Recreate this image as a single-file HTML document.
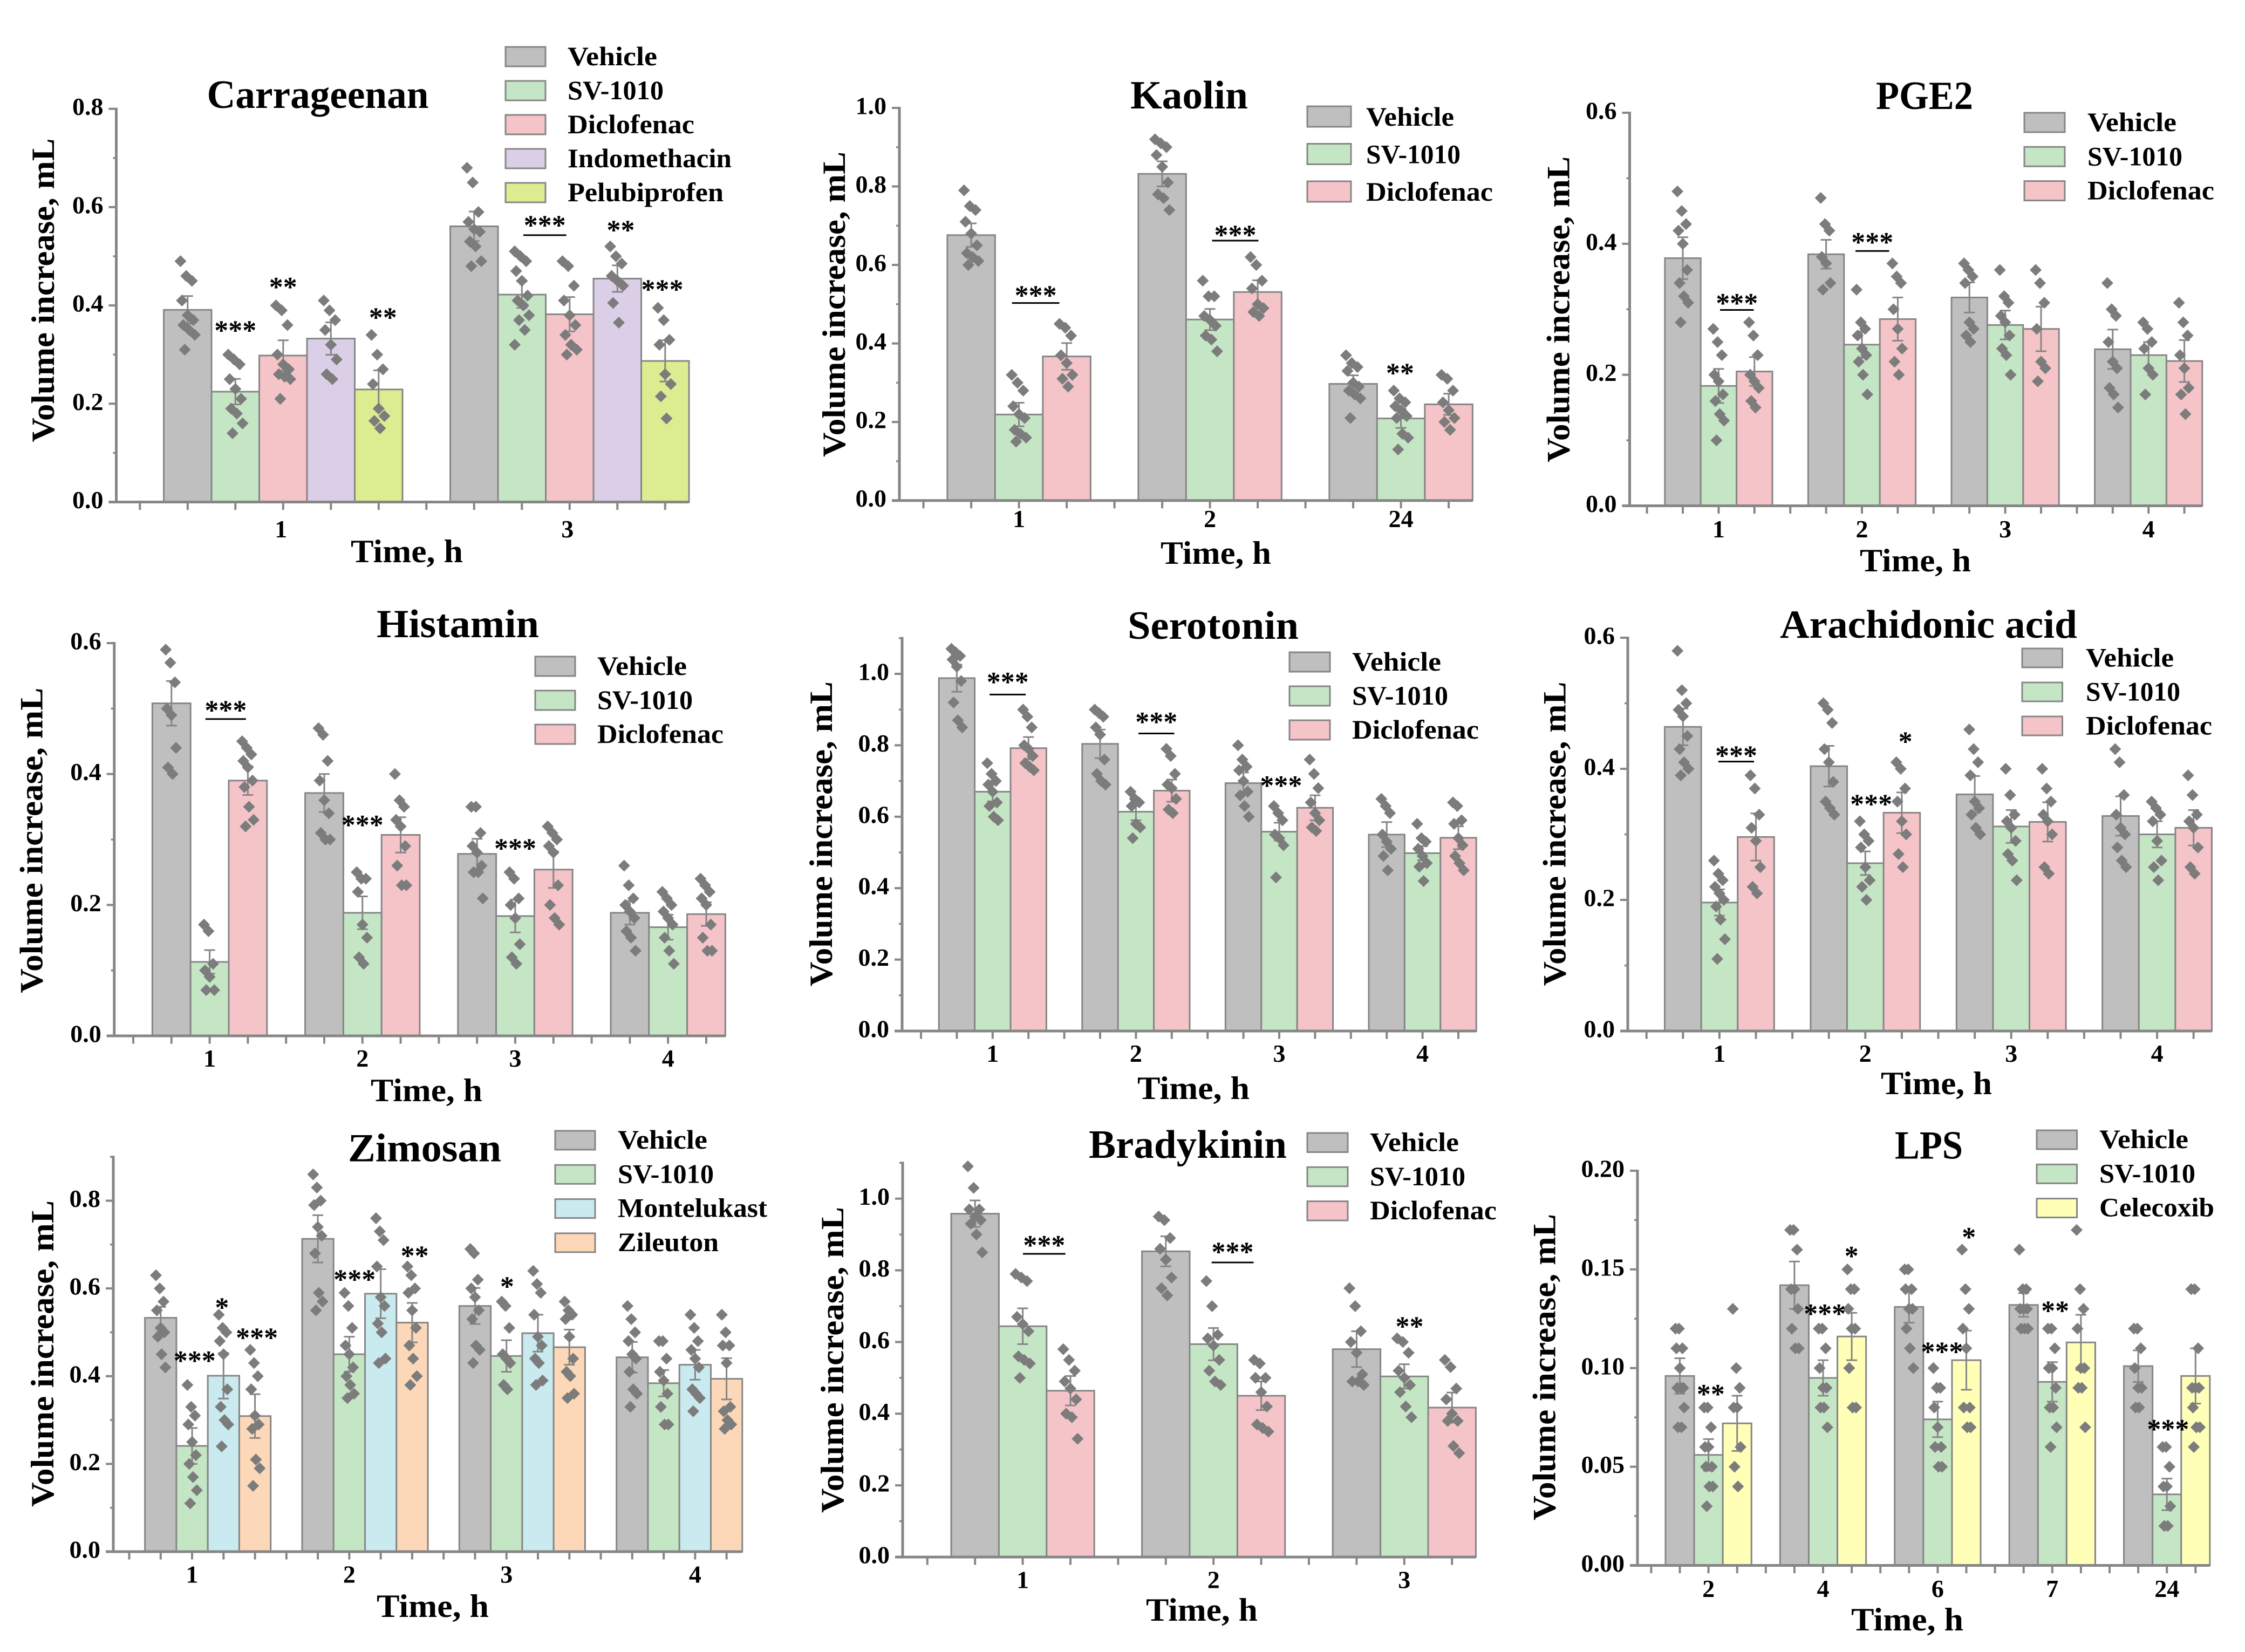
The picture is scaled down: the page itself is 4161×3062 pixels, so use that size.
<!DOCTYPE html>
<html lang="en">
<head>
<meta charset="utf-8">
<title>Paw edema volume increase panels</title>
<style>
html,body{margin:0;padding:0;background:#fff;}
svg{display:block;}
text{font-family:"Liberation Serif",serif;font-weight:700;fill:#000;}
.ttl{font-size:74px;text-anchor:middle;}
.axt{font-size:60px;text-anchor:middle;}
.leg{font-size:50px;}
.sw{stroke:#868686;stroke-width:3;}
</style>
</head>
<body>
<svg id="figure" xmlns="http://www.w3.org/2000/svg" width="4161" height="3062" viewBox="0 0 4161 3062">
<rect x="0" y="0" width="4161" height="3062" fill="#fff"/>

<!-- Carrageenan -->
<text class="ttl" x="589" y="200" textLength="411" lengthAdjust="spacingAndGlyphs">Carrageenan</text>
<text class="axt" x="754" y="1042" textLength="208" lengthAdjust="spacingAndGlyphs">Time, h</text>
<text class="axt" transform="translate(100,538) rotate(-90)" textLength="563" lengthAdjust="spacingAndGlyphs">Volume increase, mL</text>
<g>
<rect class="sw" x="937" y="87" width="74" height="36" fill="#bfbfbf"/><text class="leg" x="1052" y="121" textLength="166" lengthAdjust="spacingAndGlyphs">Vehicle</text>
<rect class="sw" x="937" y="150" width="74" height="36" fill="#c5e6c5"/><text class="leg" x="1052" y="184" textLength="178" lengthAdjust="spacingAndGlyphs">SV-1010</text>
<rect class="sw" x="937" y="213" width="74" height="36" fill="#f4c4c8"/><text class="leg" x="1052" y="247" textLength="235" lengthAdjust="spacingAndGlyphs">Diclofenac</text>
<rect class="sw" x="937" y="276" width="74" height="36" fill="#dbcfe7"/><text class="leg" x="1052" y="310" textLength="304" lengthAdjust="spacingAndGlyphs">Indomethacin</text>
<rect class="sw" x="937" y="339" width="74" height="36" fill="#dcec90"/><text class="leg" x="1052" y="373" textLength="289" lengthAdjust="spacingAndGlyphs">Pelubiprofen</text>
</g>

<!-- Kaolin -->
<text class="ttl" x="2204" y="201" textLength="218" lengthAdjust="spacingAndGlyphs">Kaolin</text>
<text class="axt" x="2253.5" y="1045" textLength="205" lengthAdjust="spacingAndGlyphs">Time, h</text>
<text class="axt" transform="translate(1566,564) rotate(-90)" textLength="566" lengthAdjust="spacingAndGlyphs">Volume increase, mL</text>
<g>
<rect class="sw" x="2423" y="197" width="81" height="38" fill="#bfbfbf"/><text class="leg" x="2532" y="233" textLength="163" lengthAdjust="spacingAndGlyphs">Vehicle</text>
<rect class="sw" x="2423" y="266.5" width="81" height="38" fill="#c5e6c5"/><text class="leg" x="2532" y="302.5" textLength="175" lengthAdjust="spacingAndGlyphs">SV-1010</text>
<rect class="sw" x="2423" y="336" width="81" height="38" fill="#f4c4c8"/><text class="leg" x="2532" y="372" textLength="235" lengthAdjust="spacingAndGlyphs">Diclofenac</text>
</g>

<!-- PGE2 -->
<text class="ttl" x="3567" y="202" textLength="180" lengthAdjust="spacingAndGlyphs">PGE2</text>
<text class="axt" x="3550" y="1059" textLength="206" lengthAdjust="spacingAndGlyphs">Time, h</text>
<text class="axt" transform="translate(2908.5,573.5) rotate(-90)" textLength="567" lengthAdjust="spacingAndGlyphs">Volume increase, mL</text>
<g>
<rect class="sw" x="3752" y="209" width="75" height="36" fill="#bfbfbf"/><text class="leg" x="3869" y="243" textLength="165" lengthAdjust="spacingAndGlyphs">Vehicle</text>
<rect class="sw" x="3752" y="272.3" width="75" height="36" fill="#c5e6c5"/><text class="leg" x="3869" y="306.3" textLength="176" lengthAdjust="spacingAndGlyphs">SV-1010</text>
<rect class="sw" x="3752" y="335.6" width="75" height="36" fill="#f4c4c8"/><text class="leg" x="3869" y="369.6" textLength="235" lengthAdjust="spacingAndGlyphs">Diclofenac</text>
</g>

<!-- Histamin -->
<text class="ttl" x="848.5" y="1181" textLength="301" lengthAdjust="spacingAndGlyphs">Histamin</text>
<text class="axt" x="790.5" y="2041" textLength="207" lengthAdjust="spacingAndGlyphs">Time, h</text>
<text class="axt" transform="translate(78.6,1557.7) rotate(-90)" textLength="566" lengthAdjust="spacingAndGlyphs">Volume increase, mL</text>
<g>
<rect class="sw" x="992" y="1217" width="74" height="36" fill="#bfbfbf"/><text class="leg" x="1107" y="1251" textLength="166" lengthAdjust="spacingAndGlyphs">Vehicle</text>
<rect class="sw" x="992" y="1280" width="74" height="36" fill="#c5e6c5"/><text class="leg" x="1107" y="1314" textLength="177" lengthAdjust="spacingAndGlyphs">SV-1010</text>
<rect class="sw" x="992" y="1343" width="74" height="36" fill="#f4c4c8"/><text class="leg" x="1107" y="1377" textLength="234" lengthAdjust="spacingAndGlyphs">Diclofenac</text>
</g>

<!-- Serotonin -->
<text class="ttl" x="2248.5" y="1184" textLength="317" lengthAdjust="spacingAndGlyphs">Serotonin</text>
<text class="axt" x="2212" y="2037" textLength="208" lengthAdjust="spacingAndGlyphs">Time, h</text>
<text class="axt" transform="translate(1542,1545.6) rotate(-90)" textLength="565" lengthAdjust="spacingAndGlyphs">Volume increase, mL</text>
<g>
<rect class="sw" x="2390" y="1209" width="75" height="36" fill="#bfbfbf"/><text class="leg" x="2506" y="1243" textLength="165" lengthAdjust="spacingAndGlyphs">Vehicle</text>
<rect class="sw" x="2390" y="1272" width="75" height="36" fill="#c5e6c5"/><text class="leg" x="2506" y="1306" textLength="178" lengthAdjust="spacingAndGlyphs">SV-1010</text>
<rect class="sw" x="2390" y="1335" width="75" height="36" fill="#f4c4c8"/><text class="leg" x="2506" y="1369" textLength="235" lengthAdjust="spacingAndGlyphs">Diclofenac</text>
</g>

<!-- Arachidonic acid -->
<text class="ttl" x="3574.5" y="1182" textLength="551" lengthAdjust="spacingAndGlyphs">Arachidonic acid</text>
<text class="axt" x="3589" y="2028" textLength="206" lengthAdjust="spacingAndGlyphs">Time, h</text>
<text class="axt" transform="translate(2901.6,1545.5) rotate(-90)" textLength="564" lengthAdjust="spacingAndGlyphs">Volume increase, mL</text>
<g>
<rect class="sw" x="3748" y="1202" width="74.5" height="35" fill="#bfbfbf"/><text class="leg" x="3866" y="1235.6" textLength="163" lengthAdjust="spacingAndGlyphs">Vehicle</text>
<rect class="sw" x="3748" y="1265" width="74.5" height="35" fill="#c5e6c5"/><text class="leg" x="3866" y="1298.6" textLength="175" lengthAdjust="spacingAndGlyphs">SV-1010</text>
<rect class="sw" x="3748" y="1328" width="74.5" height="35" fill="#f4c4c8"/><text class="leg" x="3866" y="1361.6" textLength="234" lengthAdjust="spacingAndGlyphs">Diclofenac</text>
</g>

<!-- Zimosan -->
<text class="ttl" x="787" y="2152.6" textLength="284" lengthAdjust="spacingAndGlyphs">Zimosan</text>
<text class="axt" x="802" y="2997" textLength="208" lengthAdjust="spacingAndGlyphs">Time, h</text>
<text class="axt" transform="translate(99,2509) rotate(-90)" textLength="568" lengthAdjust="spacingAndGlyphs">Volume increase, mL</text>
<g>
<rect class="sw" x="1029" y="2096" width="74" height="35" fill="#bfbfbf"/><text class="leg" x="1145" y="2129" textLength="166" lengthAdjust="spacingAndGlyphs">Vehicle</text>
<rect class="sw" x="1029" y="2159.3" width="74" height="35" fill="#c5e6c5"/><text class="leg" x="1145" y="2192.3" textLength="178" lengthAdjust="spacingAndGlyphs">SV-1010</text>
<rect class="sw" x="1029" y="2222.6" width="74" height="35" fill="#c9eaef"/><text class="leg" x="1145" y="2255.6" textLength="277" lengthAdjust="spacingAndGlyphs">Montelukast</text>
<rect class="sw" x="1029" y="2285.9" width="74" height="35" fill="#fdd8b8"/><text class="leg" x="1145" y="2318.9" textLength="187" lengthAdjust="spacingAndGlyphs">Zileuton</text>
</g>

<!-- Bradykinin -->
<text class="ttl" x="2201.5" y="2146" textLength="367" lengthAdjust="spacingAndGlyphs">Bradykinin</text>
<text class="axt" x="2227.5" y="3004" textLength="207" lengthAdjust="spacingAndGlyphs">Time, h</text>
<text class="axt" transform="translate(1563,2520.6) rotate(-90)" textLength="567" lengthAdjust="spacingAndGlyphs">Volume increase, mL</text>
<g>
<rect class="sw" x="2423" y="2100" width="75" height="35.5" fill="#bfbfbf"/><text class="leg" x="2539" y="2133.5" textLength="165" lengthAdjust="spacingAndGlyphs">Vehicle</text>
<rect class="sw" x="2423" y="2163.3" width="75" height="35.5" fill="#c5e6c5"/><text class="leg" x="2539" y="2196.8" textLength="177" lengthAdjust="spacingAndGlyphs">SV-1010</text>
<rect class="sw" x="2423" y="2226.6" width="75" height="35.5" fill="#f4c4c8"/><text class="leg" x="2539" y="2260.1" textLength="235" lengthAdjust="spacingAndGlyphs">Diclofenac</text>
</g>

<!-- LPS -->
<text class="ttl" x="3575" y="2147.5" textLength="126" lengthAdjust="spacingAndGlyphs">LPS</text>
<text class="axt" x="3535" y="3022" textLength="208" lengthAdjust="spacingAndGlyphs">Time, h</text>
<text class="axt" transform="translate(2882.5,2534) rotate(-90)" textLength="568" lengthAdjust="spacingAndGlyphs">Volume increase, mL</text>
<g>
<rect class="sw" x="3775" y="2095" width="74.5" height="35" fill="#bfbfbf"/><text class="leg" x="3891" y="2128" textLength="165" lengthAdjust="spacingAndGlyphs">Vehicle</text>
<rect class="sw" x="3775" y="2158.3" width="74.5" height="35" fill="#c5e6c5"/><text class="leg" x="3891" y="2191.3" textLength="178" lengthAdjust="spacingAndGlyphs">SV-1010</text>
<rect class="sw" x="3775" y="2221.6" width="74.5" height="35" fill="#ffffb8"/><text class="leg" x="3891" y="2254.6" textLength="213" lengthAdjust="spacingAndGlyphs">Celecoxib</text>
</g>
</svg>

<script>
/* ===== Data. Each table is indexed [time group][treatment]. ===== */

/* Carrageenan */
const carrageenanCategories = ["1","3"];
const carrageenanSeries = ["Vehicle","SV-1010","Diclofenac","Indomethacin","Pelubiprofen"];
const carrageenanYTicks = ["0.0","0.2","0.4","0.6","0.8"];
const carrageenanMeans = [[.391,.2245,.298,.3325,.229],[.561,.422,.382,.4545,.287]];
const carrageenanErrors = [[.028,.026,.031,.033,.039],[.03,.027,.035,.027,.042]];
const carrageenanPoints = [
 [[.49,.46,.45,.41,.38,.37,.36,.35,.34,.31],
  [.30,.29,.28,.25,.23,.21,.19,.18,.16,.14],
  [.40,.39,.36,.30,.28,.27,.26,.255,.25,.21],
  [.41,.39,.37,.35,.32,.29,.26,.25],
  [.34,.30,.27,.24,.19,.175,.165,.15]],
 [[.68,.65,.59,.57,.555,.55,.53,.52,.49,.48],
  [.51,.50,.49,.47,.45,.42,.41,.40,.38,.37,.35,.32],
  [.49,.48,.44,.41,.38,.36,.34,.32,.31,.30],
  [.52,.50,.485,.46,.45,.44,.405,.365],
  [.395,.37,.33,.32,.26,.24,.215,.17]]
];
const carrageenanSig = [[2,.357,"***"],[3,.445,"**"],[5.09,.383,"**"],[8.48,.571,"***",.543,.9],[10.07,.561,"**"],[10.94,.44,"***"]];

/* Kaolin */
const kaolinCategories = ["1","2","24"];
const kaolinSeries = ["Vehicle","SV-1010","Diclofenac"];
const kaolinYTicks = ["0.0","0.2","0.4","0.6","0.8","1.0"];
const kaolinMeans = [[.676,.219,.367],[.832,.461,.531],[.297,.209,.245]];
const kaolinErrors = [[.03,.03,.034],[.032,.027,.03],[.022,.024,.027]];
const kaolinPoints = [
 [[.79,.75,.74,.71,.68,.65,.63,.62,.61,.60],
  [.32,.30,.28,.24,.22,.21,.18,.17,.16,.15],
  [.45,.44,.42,.37,.35,.32,.31,.29]],
 [[.92,.91,.90,.88,.85,.81,.78,.77,.74],
  [.56,.52,.52,.47,.46,.445,.42,.41,.38],
  [.62,.60,.56,.54,.50,.49,.48,.47]],
 [[.37,.35,.34,.33,.30,.29,.28,.27,.26,.21],
  [.28,.26,.25,.24,.23,.215,.21,.17,.16,.13],
  [.32,.31,.28,.25,.23,.21,.20,.18]]
];
const kaolinSig = [[2.35,.532,"***",.503,.99],[6.53,.686,"***",.662,.97],[9.98,.334,"**"]];

/* PGE2 */
const pge2Categories = ["1","2","3","4"];
const pge2Series = ["Vehicle","SV-1010","Diclofenac"];
const pge2YTicks = ["0.0","0.2","0.4","0.6"];
const pge2Means = [[.378,.183,.205],[.384,.246,.285],[.318,.276,.27],[.239,.23,.221]];
const pge2Errors = [[.032,.026,.022],[.022,.02,.033],[.023,.022,.034],[.03,.02,.032]];
const pge2Points = [
 [[.48,.45,.43,.42,.40,.36,.34,.32,.31,.28],
  [.27,.25,.23,.20,.19,.17,.16,.14,.13,.10],
  [.28,.26,.23,.20,.19,.18,.16,.15]],
 [[.47,.43,.42,.38,.37,.34,.33],
  [.33,.28,.27,.26,.24,.23,.22,.20,.17],
  [.37,.35,.34,.30,.27,.24,.22,.20]],
 [[.37,.36,.35,.34,.28,.27,.26,.25],
  [.36,.32,.31,.29,.28,.26,.24,.23,.20],
  [.36,.34,.31,.27,.22,.21,.19]],
 [[.34,.30,.29,.25,.22,.21,.18,.17,.15],
  [.28,.27,.25,.24,.21,.20,.17],
  [.31,.28,.26,.23,.21,.18,.17,.14]]
];
const pge2Sig = [[2.51,.315,"***",.299,.94],[6.29,.408,"***",.389,.94]];

/* Histamin */
const histaminCategories = ["1","2","3","4"];
const histaminSeries = ["Vehicle","SV-1010","Diclofenac"];
const histaminYTicks = ["0.0","0.2","0.4","0.6"];
const histaminMeans = [[.508,.113,.39],[.371,.188,.307],[.278,.183,.254],[.188,.166,.186]];
const histaminErrors = [[.034,.018,.022],[.029,.025,.027],[.023,.025,.028],[.018,.019,.018]];
const histaminPoints = [
 [[.59,.57,.54,.50,.49,.44,.41,.40],
  [.17,.16,.11,.10,.09,.07,.07],
  [.45,.44,.43,.42,.41,.39,.38,.35,.33,.32]],
 [[.47,.46,.42,.39,.36,.34,.31,.30,.30],
  [.25,.24,.24,.22,.17,.15,.12,.11],
  [.40,.36,.35,.33,.32,.29,.26,.23,.23]],
 [[.35,.35,.31,.29,.28,.26,.25,.25,.21],
  [.25,.24,.21,.20,.18,.14,.12,.11],
  [.32,.31,.30,.29,.28,.23,.20,.18,.17]],
 [[.26,.23,.21,.20,.19,.18,.16,.15,.13],
  [.22,.21,.20,.19,.18,.17,.15,.13,.11],
  [.24,.23,.22,.21,.20,.17,.15,.13,.13]]
];
const histaminSig = [[2.42,.503,"***",.484,1.06],[6,.328,"***"],[10,.292,"***"]];

/* Serotonin */
const serotoninCategories = ["1","2","3","4"];
const serotoninSeries = ["Vehicle","SV-1010","Diclofenac"];
const serotoninYTicks = ["0.0","0.2","0.4","0.6","0.8","1.0"];
const serotoninMeans = [[.988,.67,.792],[.804,.614,.673],[.694,.558,.625],[.55,.498,.541]];
const serotoninErrors = [[.038,.027,.031],[.04,.024,.031],[.03,.025,.035],[.035,.02,.032]];
const serotoninPoints = [
 [[1.07,1.06,1.05,1.04,1.02,.98,.92,.87,.85],
  [.75,.72,.70,.69,.67,.64,.63,.60,.59],
  [.90,.88,.85,.80,.79,.77,.75,.74,.73]],
 [[.90,.89,.88,.85,.83,.76,.72,.70,.69],
  [.67,.65,.64,.63,.58,.57,.54],
  [.79,.77,.72,.69,.68,.65,.62,.61]],
 [[.80,.76,.74,.73,.70,.67,.66,.63,.60],
  [.63,.61,.59,.55,.54,.52,.43],
  [.76,.72,.68,.64,.61,.59,.57,.56]],
 [[.65,.63,.61,.55,.53,.51,.49,.45],
  [.58,.54,.53,.51,.49,.47,.46,.42],
  [.64,.63,.59,.58,.54,.52,.49,.47,.45]]
];
const serotoninSig = [[2.42,.988,"***",.942,1.01],[6.57,.876,"***",.833,1],[10.05,.698,"***"]];

/* Arachidonic acid */
const arachidonicCategories = ["1","2","3","4"];
const arachidonicSeries = ["Vehicle","SV-1010","Diclofenac"];
const arachidonicYTicks = ["0.0","0.2","0.4","0.6"];
const arachidonicMeans = [[.464,.196,.296],[.404,.256,.333],[.361,.312,.319],[.328,.30,.31]];
const arachidonicErrors = [[.028,.02,.036],[.031,.018,.031],[.028,.025,.03],[.03,.02,.027]];
const arachidonicPoints = [
 [[.58,.52,.50,.49,.48,.45,.43,.41,.40,.39],
  [.26,.24,.23,.22,.21,.20,.19,.17,.14,.11],
  [.39,.37,.33,.31,.29,.25,.22,.21]],
 [[.50,.49,.47,.43,.41,.38,.35,.34,.33],
  [.32,.30,.29,.28,.25,.23,.22,.20],
  [.41,.40,.37,.35,.32,.30,.27,.25]],
 [[.46,.43,.41,.39,.35,.34,.33,.31,.30],
  [.40,.36,.33,.32,.31,.29,.27,.26,.23],
  [.40,.37,.35,.33,.32,.30,.25,.24]],
 [[.43,.41,.36,.33,.31,.30,.28,.26,.25],
  [.35,.34,.33,.32,.29,.26,.25,.23],
  [.39,.36,.33,.32,.31,.28,.25,.24]]
];
const arachidonicSig = [[2.46,.426,"***",.411,.98],[6.16,.352,"***"],[7.1,.4475,"*"]];

/* Zimosan */
const zimosanCategories = ["1","2","3","4"];
const zimosanSeries = ["Vehicle","SV-1010","Montelukast","Zileuton"];
const zimosanYTicks = ["0.0","0.2","0.4","0.6","0.8"];
const zimosanMeans = [[.533,.241,.401,.309],[.713,.45,.588,.522],[.56,.446,.498,.466],[.443,.384,.426,.394]];
const zimosanErrors = [[.025,.041,.052,.05],[.054,.04,.056,.045],[.041,.036,.042,.04],[.035,.03,.034,.047]];
const zimosanPoints = [
 [[.63,.60,.57,.55,.51,.50,.49,.45,.42],
  [.38,.33,.31,.29,.25,.22,.20,.17,.14,.11],
  [.54,.51,.50,.48,.45,.37,.33,.30,.29,.24],
  [.46,.43,.40,.37,.31,.29,.28,.21,.19,.15]],
 [[.86,.83,.80,.79,.74,.72,.68,.59,.57,.55],
  [.59,.56,.51,.47,.45,.42,.40,.38,.36,.35],
  [.76,.73,.71,.65,.58,.56,.52,.50,.44,.43],
  [.65,.63,.60,.59,.55,.51,.47,.44,.40,.38]],
 [[.69,.68,.62,.60,.58,.55,.53,.47,.46,.43],
  [.57,.56,.51,.45,.44,.43,.38,.37],
  [.64,.61,.59,.54,.49,.47,.44,.43,.39,.38],
  [.57,.55,.54,.53,.49,.44,.41,.40,.36,.35]],
 [[.56,.53,.50,.48,.45,.44,.41,.37,.36,.33],
  [.48,.48,.44,.41,.39,.36,.33,.29,.29],
  [.54,.51,.48,.46,.44,.42,.37,.36,.35,.32],
  [.54,.50,.47,.47,.43,.33,.32,.30,.29,.28]]
];
const zimosanSig = [[2.08,.444,"***"],[2.95,.565,"*"],[4.06,.496,"***"],[7.17,.629,"***"],[9.08,.683,"**"],[12.02,.613,"*"]];

/* Bradykinin */
const bradykininCategories = ["1","2","3"];
const bradykininSeries = ["Vehicle","SV-1010","Diclofenac"];
const bradykininYTicks = ["0.0","0.2","0.4","0.6","0.8","1.0"];
const bradykininMeans = [[.958,.644,.464],[.853,.594,.45],[.58,.504,.417]];
const bradykininErrors = [[.037,.05,.041],[.042,.045,.04],[.05,.034,.042]];
const bradykininPoints = [
 [[1.09,1.03,.97,.97,.95,.94,.93,.90,.85],
  [.79,.78,.77,.67,.65,.63,.56,.55,.54,.50],
  [.58,.55,.52,.49,.47,.44,.40,.39,.33]],
 [[.95,.94,.89,.86,.83,.78,.75,.73],
  [.77,.70,.62,.61,.59,.55,.52,.49,.48],
  [.55,.54,.50,.50,.46,.42,.37,.36,.35]],
 [[.75,.70,.63,.60,.57,.51,.49,.49,.48],
  [.61,.60,.57,.52,.50,.48,.46,.42,.39],
  [.55,.53,.47,.44,.40,.38,.38,.31,.29]]
];
const bradykininSig = [[2.45,.881,"***",.846,.89],[6.4,.862,"***",.822,.88],[10.11,.654,"**"]];

/* LPS */
const lpsCategories = ["2","4","6","7","24"];
const lpsSeries = ["Vehicle","SV-1010","Celecoxib"];
const lpsYTicks = ["0.00","0.05","0.10","0.15","0.20"];
const lpsMeans = [[.096,.056,.072],[.142,.095,.116],[.131,.074,.104],[.132,.093,.113],[.101,.036,.096]];
const lpsErrors = [[.009,.008,.014],[.012,.009,.012],[.008,.009,.015],[.006,.01,.014],[.008,.008,.014]];
const lpsPoints = [
 [[.12,.12,.11,.11,.10,.09,.09,.09,.08,.07,.07],
  [.08,.08,.07,.06,.06,.05,.05,.04,.04,.03],
  [.13,.10,.09,.08,.08,.06,.05,.04]],
 [[.17,.17,.16,.14,.14,.13,.12,.11,.11],
  [.12,.12,.11,.10,.09,.09,.08,.08,.07],
  [.15,.14,.14,.13,.12,.12,.10,.08,.08]],
 [[.15,.15,.14,.14,.13,.13,.12,.11,.10],
  [.10,.09,.09,.08,.07,.06,.06,.05,.05],
  [.16,.14,.13,.12,.11,.08,.08,.07,.07]],
 [[.16,.14,.14,.13,.13,.13,.12,.12,.12],
  [.12,.12,.11,.10,.10,.09,.08,.08,.07,.06],
  [.17,.14,.13,.12,.10,.10,.09,.09,.07]],
 [[.12,.12,.11,.10,.09,.09,.08,.08],
  [.06,.06,.05,.04,.04,.03,.02,.02],
  [.14,.14,.11,.09,.09,.09,.08,.07,.07,.06]]
];
const lpsSig = [[2.08,.0887,"**"],[6.06,.1295,"***"],[6.99,.1587,"*"],[10.15,.1102,"***"],[11.09,.1683,"*"],[14.1,.1309,"**"],[18.04,.0709,"***"]];

/* ===== Styling and layout ===== */
const seriesColors = {
  "Vehicle":"#bfbfbf","SV-1010":"#c5e6c5","Diclofenac":"#f4c4c8","Indomethacin":"#dbcfe7",
  "Pelubiprofen":"#dcec90","Montelukast":"#c9eaef","Zileuton":"#fdd8b8","Celecoxib":"#ffffb8"
};
const AXIS = "#868686", MARK = "#7c7c7c", EDGE = "#868686";
const NS = "http://www.w3.org/2000/svg";
const figure = document.getElementById("figure");

function make(tag, attrs, parent){
  const el = document.createElementNS(NS, tag);
  for (const k in attrs) el.setAttribute(k, attrs[k]);
  parent.appendChild(el);
  return el;
}

function drawPanel(p){
  const L = p.layout;
  const nSeries = p.series.length;
  const nGroups = p.categories.length;
  const nTicks = nGroups * (nSeries + 1);
  const refVal = L.yRefValue;
  const xSlot = k => L.tick0 + k * L.step;
  const yVal = v => L.y0 - (v / refVal) * (L.y0 - L.yRefPx);
  const barSlot = (g, s) => 1 + g * (nSeries + 1) + s;
  const xEnd = xSlot(nTicks - 1) + L.step / 2;

  const panel = make("g", {}, figure);
  
  

  /* bars */
  p.means.forEach((row, g) => row.forEach((val, s) => {
    const c = xSlot(barSlot(g, s));
    const bar = make("rect", {x:c - L.step/2, y:yVal(val), width:L.step, height:L.y0 - yVal(val),
      fill:seriesColors[p.series[s]], stroke:EDGE, "stroke-width":3}, panel);
    
    
  }));

  /* error bars */
  p.errors.forEach((row, g) => row.forEach((err, s) => {
    const c = xSlot(barSlot(g, s));
    const hi = yVal(p.means[g][s] + err), lo = yVal(p.means[g][s] - err);
    const path = make("path", {d:`M${c} ${lo}V${hi}M${c-10} ${hi}H${c+10}M${c-10} ${lo}H${c+10}`,
      fill:"none", stroke:EDGE, "stroke-width":3}, panel);
    
    
  }));

  /* individual animals */
  p.points.forEach((row, g) => row.forEach((vals, s) => {
    const c = xSlot(barSlot(g, s));
    vals.forEach((v, i) => {
      const off = (((i * 37) % 11) / 10 - 0.5) * 0.3 * L.step;
      const px = c + off, py = yVal(v);
      const d = make("path", {d:`M${px} ${py-11}L${px+11} ${py}L${px} ${py+11}L${px-11} ${py}Z`, fill:MARK}, panel);
      
      
    });
  }));

  /* x axis line and ticks */
  const xLine = make("line", {x1:L.axisX - 14, x2:xEnd, y1:L.y0, y2:L.y0, stroke:AXIS, "stroke-width":5}, panel);
  
  
  for (let k = 0; k < nTicks; k++){
    const t = make("line", {x1:xSlot(k), x2:xSlot(k), y1:L.y0, y2:L.y0 + 14.5, stroke:AXIS, "stroke-width":4}, panel);
    
    
  }
  p.categories.forEach((lab, g) => {
    const bar = (L.labelBar && L.labelBar[g] !== undefined) ? L.labelBar[g] : (nSeries - 1) >> 1;
    const t = make("text", {x:xSlot(barSlot(g, bar)) + (L.xLabelDx || 0), y:L.xLabelY, "text-anchor":"middle", "font-size":46}, panel);
    t.textContent = lab;
    
    
  });

  /* y axis line and ticks */
  const yTop = yVal(L.yMax);
  const yLine = make("line", {x1:L.axisX, x2:L.axisX, y1:L.y0 + 2, y2:yTop - 2, stroke:AXIS, "stroke-width":5}, panel);
  
  
  const major = Number(p.yTicks[1]);
  p.yTicks.forEach(lab => {
    const v = Number(lab);
    const t = make("line", {x1:L.axisX - 14, x2:L.axisX, y1:yVal(v), y2:yVal(v), stroke:AXIS, "stroke-width":4}, panel);
    
    
    const txt = make("text", {x:L.axisX - 24, y:yVal(v) + 11.5, "text-anchor":"end", "font-size":46}, panel);
    txt.textContent = lab;
    
    
    const mv = v + major / 2;
    if (mv <= L.yMax + 1e-9){
      const m = make("line", {x1:L.axisX - 6, x2:L.axisX, y1:yVal(mv), y2:yVal(mv), stroke:AXIS, "stroke-width":3.5}, panel);
      
      
    }
  });

  /* significance marks */
  p.sig.forEach(a => {
    const x = xSlot(a[0]);
    const t = make("text", {x:x, y:yVal(a[1]) + 24, "text-anchor":"middle", "font-size":52}, panel);
    t.textContent = a[2];
    
    
    if (a[3] !== undefined){
      const half = a[4] * L.step / 2;
      const br = make("line", {x1:x - half, x2:x + half, y1:yVal(a[3]), y2:yVal(a[3]), stroke:"#000", "stroke-width":3}, panel);
      
      
    }
  });
}

drawPanel({name:"carrageenan", categories:carrageenanCategories, series:carrageenanSeries, yTicks:carrageenanYTicks,
  means:carrageenanMeans, errors:carrageenanErrors, points:carrageenanPoints, sig:carrageenanSig,
  layout:{axisX:215.5, tick0:259.3, step:88.5, y0:930.5, yRefPx:201.7, yRefValue:.8, yMax:.8, xLabelY:996, xLabelDx:-4}});
drawPanel({name:"kaolin", categories:kaolinCategories, series:kaolinSeries, yTicks:kaolinYTicks,
  means:kaolinMeans, errors:kaolinErrors, points:kaolinPoints, sig:kaolinSig,
  layout:{axisX:1667, tick0:1711.6, step:88.5, y0:927.7, yRefPx:200, yRefValue:1, yMax:1, xLabelY:977}});
drawPanel({name:"pge2", categories:pge2Categories, series:pge2Series, yTicks:pge2YTicks,
  means:pge2Means, errors:pge2Errors, points:pge2Points, sig:pge2Sig,
  layout:{axisX:3020.5, tick0:3052.6, step:66.4, y0:937.5, yRefPx:209, yRefValue:.6, yMax:.6, xLabelY:996}});
drawPanel({name:"histamin", categories:histaminCategories, series:histaminSeries, yTicks:histaminYTicks,
  means:histaminMeans, errors:histaminErrors, points:histaminPoints, sig:histaminSig,
  layout:{axisX:211.8, tick0:247, step:70.8, y0:1920, yRefPx:1192, yRefValue:.6, yMax:.6, xLabelY:1977}});
drawPanel({name:"serotonin", categories:serotoninCategories, series:serotoninSeries, yTicks:serotoninYTicks,
  means:serotoninMeans, errors:serotoninErrors, points:serotoninPoints, sig:serotoninSig,
  layout:{axisX:1672, tick0:1707, step:66.4, y0:1911, yRefPx:1249, yRefValue:1, yMax:1.1, xLabelY:1968}});
drawPanel({name:"arachidonic-acid", categories:arachidonicCategories, series:arachidonicSeries, yTicks:arachidonicYTicks,
  means:arachidonicMeans, errors:arachidonicErrors, points:arachidonicPoints, sig:arachidonicSig,
  layout:{axisX:3017, tick0:3051.7, step:67.6, y0:1911, yRefPx:1182, yRefValue:.6, yMax:.6, xLabelY:1968}});
drawPanel({name:"zimosan", categories:zimosanCategories, series:zimosanSeries, yTicks:zimosanYTicks,
  means:zimosanMeans, errors:zimosanErrors, points:zimosanPoints, sig:zimosanSig,
  layout:{axisX:210, tick0:239.5, step:58.27, y0:2876, yRefPx:2225.5, yRefValue:.8, yMax:.9, xLabelY:2933.5, labelBar:{3:2}}});
drawPanel({name:"bradykinin", categories:bradykininCategories, series:bradykininSeries, yTicks:bradykininYTicks,
  means:bradykininMeans, errors:bradykininErrors, points:bradykininPoints, sig:bradykininSig,
  layout:{axisX:1673, tick0:1718.8, step:88.4, y0:2886, yRefPx:2221.7, yRefValue:1, yMax:1.1, xLabelY:2943.7}});
drawPanel({name:"lps", categories:lpsCategories, series:lpsSeries, yTicks:lpsYTicks,
  means:lpsMeans, errors:lpsErrors, points:lpsPoints, sig:lpsSig,
  layout:{axisX:3035, tick0:3060.4, step:53.1, y0:2901.5, yRefPx:2170, yRefValue:.2, yMax:.2, xLabelY:2960}});
</script>
</body>
</html>
